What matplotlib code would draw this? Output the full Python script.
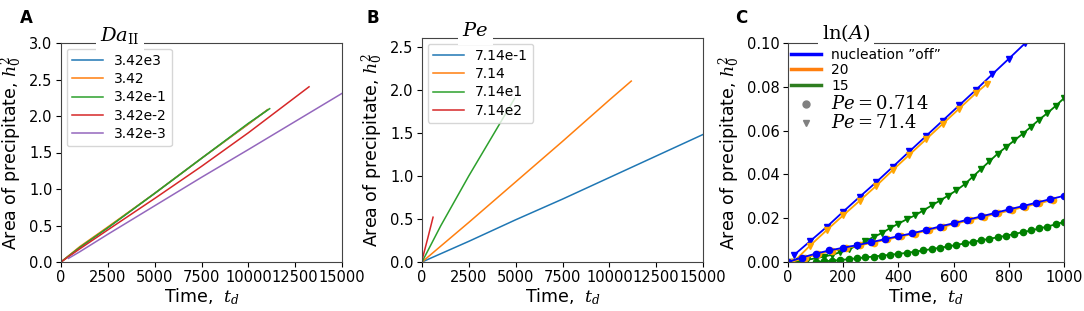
import matplotlib
matplotlib.use('Agg')
import matplotlib.pyplot as plt
from matplotlib.lines import Line2D

plt.rcParams['mathtext.fontset'] = 'dejavuserif'
plt.rcParams['font.family'] = 'DejaVu Sans'

# --- panel A: Da_II sweep ---
da_labels = ['3.42e3', '3.42', '3.42e-1', '3.42e-2', '3.42e-3']
da_t = [
    [0, 1000, 2500, 5000, 7500, 10000, 11000],
    [0, 1000, 2500, 5000, 7500, 10000, 11050],
    [0, 1000, 2500, 5000, 7500, 10000, 11140],
    [0, 1000, 2500, 5000, 7500, 10000, 13240],
    [400, 1000, 2500, 5000, 7500, 10000, 15000],
]
da_area = [
    [0, 0.20, 0.47, 0.94, 1.42, 1.89, 2.08],
    [0, 0.21, 0.48, 0.94, 1.42, 1.89, 2.09],
    [0, 0.20, 0.47, 0.94, 1.42, 1.90, 2.10],
    [0, 0.18, 0.44, 0.87, 1.31, 1.77, 2.40],
    [0.05, 0.14, 0.38, 0.77, 1.16, 1.54, 2.31],
]

# --- panel B: Pe sweep ---
pe_labels = ['7.14e-1', '7.14', '7.14e1', '7.14e2']
pe_t = [
    [0, 2500, 5000, 7500, 10000, 12500, 15000],
    [0, 2500, 5000, 7500, 10000, 11170],
    [0, 1000, 2500, 4000, 4950],
    [0, 300, 590],
]
pe_area = [
    [0, 0.24, 0.49, 0.73, 0.98, 1.23, 1.48],
    [0, 0.46, 0.93, 1.40, 1.88, 2.10],
    [0, 0.42, 1.00, 1.55, 1.90],
    [0.02, 0.27, 0.52],
]

# --- panel C: nucleation ---
# Pe = 71.4 (triangles)
off_hi_t = [20, 80, 140, 200, 260, 320, 380, 440, 500, 560, 620, 680, 740, 800, 860, 920]
off_hi = [0.003, 0.0095, 0.016, 0.023, 0.0298, 0.0365, 0.0435, 0.0505, 0.0575,
          0.0645, 0.0715, 0.0785, 0.0857, 0.0928, 0.1, 0.107]
a20_hi_t = [20, 80, 140, 200, 260, 320, 380, 440, 500, 560, 620, 680, 722]
a20_hi = [0.0, 0.0075, 0.0145, 0.0213, 0.028, 0.0348, 0.042, 0.049, 0.056,
          0.063, 0.07, 0.077, 0.0815]
a15_hi_t = [10, 40, 70, 100, 130, 160, 190, 220, 250, 280, 310, 340, 370, 400, 430,
            460, 490, 520, 550, 580, 610, 640, 670, 700, 730, 760, 790, 820, 850,
            880, 910, 940, 970, 1000]
a15_hi = [0.0002, 0.0005, 0.001, 0.0017, 0.0025, 0.0033, 0.0045, 0.0058, 0.0075,
          0.0095, 0.0114, 0.0132, 0.0155, 0.0175, 0.0195, 0.0213, 0.0235, 0.0258,
          0.028, 0.0303, 0.0327, 0.0355, 0.039, 0.0425, 0.046, 0.0495, 0.0525,
          0.0555, 0.0585, 0.0617, 0.065, 0.068, 0.0713, 0.0748]
# Pe = 0.714 (circles)
off_lo_t = [0, 50, 100, 150, 200, 250, 300, 350, 400, 450, 500, 550, 600, 650,
            700, 750, 800, 850, 900, 950, 1000]
off_lo = [0.0, 0.002, 0.0038, 0.0053, 0.0065, 0.0077, 0.009, 0.0104, 0.0118,
          0.0131, 0.0146, 0.0162, 0.0177, 0.0193, 0.0208, 0.0224, 0.024, 0.0255,
          0.0271, 0.0287, 0.0302]
a20_lo_t = [10, 60, 110, 160, 210, 260, 310, 360, 410, 460, 510, 560, 610, 660,
            710, 760, 810, 860, 910, 960]
a20_lo = [0.0, 0.0018, 0.0036, 0.0051, 0.0064, 0.0076, 0.0089, 0.0103, 0.0117,
          0.013, 0.0145, 0.016, 0.0176, 0.0191, 0.0206, 0.0222, 0.0237, 0.0253,
          0.0268, 0.0284]
a15_lo_t = [100, 130, 160, 190, 220, 250, 280, 310, 340, 370, 400, 430, 460, 490,
            520, 550, 580, 610, 640, 670, 700, 730, 760, 790, 820, 850, 880, 910,
            940, 970, 1000]
a15_lo = [0.0, 0.0003, 0.0006, 0.0009, 0.0013, 0.0017, 0.0021, 0.0025, 0.0029,
          0.0033, 0.0037, 0.0042, 0.0047, 0.0053, 0.0059, 0.0065, 0.0071, 0.0078,
          0.0085, 0.0092, 0.0099, 0.0106, 0.0113, 0.012, 0.0128, 0.0136, 0.0144,
          0.0153, 0.0162, 0.0172, 0.0183]

W, H = 1084, 311
fig = plt.figure(figsize=(W / 100, H / 100), dpi=100)


def box(l, t, r, b):
    return [l / W, 1 - b / H, (r - l) / W, (b - t) / H]


tick_fs = 10.5
label_fs = 12.5


def style(ax):
    ax.tick_params(labelsize=tick_fs, length=3.5, width=0.8, pad=2.5)
    for s in ax.spines.values():
        s.set_color('#444444')
    ax.set_xlabel(r'Time,  $t_d$', fontsize=label_fs, labelpad=1)
    ax.set_ylabel(r'Area of precipitate, $h_0^2$', fontsize=label_fs, labelpad=3)


def title_box(ax, xfrac, y_px, txt, size=14):
    fig.text(ax.get_position().x0 + xfrac * ax.get_position().width, 1 - y_px / H,
             txt, fontsize=size, ha='center', va='center',
             bbox=dict(facecolor='white', edgecolor='none', pad=3), zorder=10)


colors = ['tab:blue', 'tab:orange', 'tab:green', 'tab:red', 'tab:purple']

# A
axA = fig.add_axes(box(61, 43, 342, 262))
for t, a, lab, c in zip(da_t, da_area, da_labels, colors):
    axA.plot(t, a, color=c, lw=1.1, label=lab)
axA.set_xlim(0, 15000)
axA.set_ylim(0, 3.0)
axA.set_xticks(range(0, 15001, 2500))
style(axA)
axA.legend(loc='upper left', fontsize=10, handlelength=2.2, borderaxespad=0.4,
           labelspacing=0.3)
title_box(axA, 0.21, 36, r'$Da_{\rm II}$')
fig.text(20 / W, 1 - 18 / H, 'A', fontsize=12, fontweight='bold', va='center')

# B
axB = fig.add_axes(box(422, 38, 703, 262))
for t, a, lab, c in zip(pe_t, pe_area, pe_labels, colors):
    axB.plot(t, a, color=c, lw=1.1, label=lab)
axB.set_xlim(0, 15000)
axB.set_ylim(0, 2.6)
axB.set_xticks(range(0, 15001, 2500))
style(axB)
axB.legend(loc='upper left', fontsize=10, handlelength=2.2, borderaxespad=0.4,
           labelspacing=0.3)
title_box(axB, 0.19, 31, r'$Pe$')
fig.text(367 / W, 1 - 18 / H, 'B', fontsize=12, fontweight='bold', va='center')

# C
axC = fig.add_axes(box(788, 43, 1064, 262))
axC.plot(off_hi_t, off_hi, color='blue', lw=1.3, marker='v', ms=5)
axC.plot(a20_hi_t, a20_hi, color='orange', lw=1.3, marker='v', ms=4.5)
axC.plot(a15_hi_t, a15_hi, color='green', lw=1.3, marker='v', ms=5)
axC.plot(a20_lo_t, a20_lo, color='orange', lw=1.3, marker='o', ms=4.5)
axC.plot(off_lo_t, off_lo, color='blue', lw=1.3, marker='o', ms=4.5)
axC.plot(a15_lo_t, a15_lo, color='green', lw=1.3, marker='o', ms=4.5)
axC.set_xlim(0, 1000)
axC.set_ylim(0, 0.1)
axC.set_xticks(range(0, 1001, 200))
style(axC)
handles = [
    Line2D([], [], color='blue', lw=2.5),
    Line2D([], [], color='tab:orange', lw=2.5),
    Line2D([], [], color='#2e7d1f', lw=2.5),
    Line2D([], [], color='grey', ls='none', marker='o', ms=5),
    Line2D([], [], color='grey', ls='none', marker='v', ms=5),
]
labels = ['nucleation \u201doff\u201d', '20', '15', r'$Pe = 0.714$', r'$Pe = 71.4$']
legC = axC.legend(handles, labels, loc='upper left', frameon=False, fontsize=10,
                  handlelength=2.2, bbox_to_anchor=(0.005, 0.985),
                  borderaxespad=0.0, labelspacing=0.12,
                  borderpad=0.1, handletextpad=0.7)
for txt in legC.get_texts()[3:]:
    txt.set_fontsize(13)
title_box(axC, 0.21, 33, r'$\ln(A)$')
fig.text(735 / W, 1 - 18 / H, 'C', fontsize=12, fontweight='bold', va='center')

fig.savefig('out.png', dpi=100)
